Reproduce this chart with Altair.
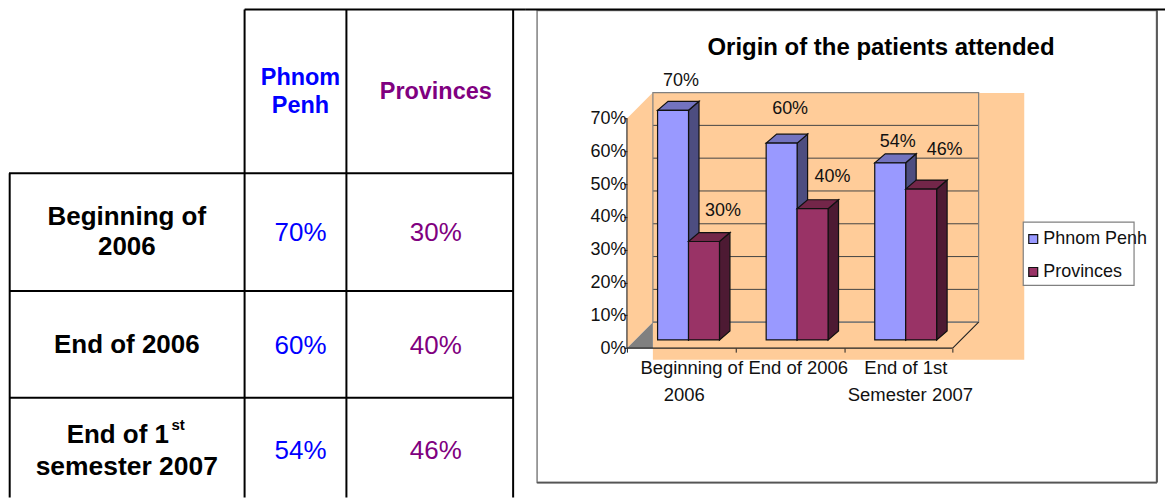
import altair as alt
import pandas as pd

# ---------- chart values ----------
SERIES = ["Phnom Penh", "Provinces"]
CATEGORIES = ["Beginning of 2006", "End of 2006", "End of 1st Semester 2007"]
PHNOM = [70, 60, 54]
PROVINCES = [30, 40, 46]
TITLE = "Origin of the patients attended"
AXIS_TICKS = [0, 10, 20, 30, 40, 50, 60, 70]
TABLE_HEAD = ["Phnom\nPenh", "Provinces"]
TABLE_ROWS = ["Beginning of\n2006", "End of 2006"]
CAT_LINES = [["Beginning of", "2006"], ["End of 2006"], ["End of 1st", "Semester 2007"]]

# ---------- layout / style ----------
FONT = "Liberation Sans"
BLUE, BLUE_SIDE, BLUE_TOP = "#9999FF", "#4D4D80", "#7373BF"
MAR, MAR_SIDE, MAR_TOP = "#993366", "#4D1A33", "#732649"
ORANGE = "#FFCC99"
PX_X, PX_Y = 108.77, 3.286        # pixels per category / per percent point
OX, OY = 627 - 525, 348.3 - 8     # panel position of the front-left floor corner
PW, PH, TW = 641, 490, 517
BAR_W, BAR_GAP = 31 / PX_X, 30.7 / PX_X
BAR_DX, BAR_DZ = 10.5 / PX_X, 9 / PX_Y
BASE = 2.5
WALL_DX, WALL_DZ = 26 / PX_X, 26 / PX_Y
LABEL_DX = {0: [8, 8.5, 7.5], 1: [19, 20, 23.5]}
LABEL_DY = {0: [29, 34, 21], 1: [30.5, 32, 39.5]}

xs = alt.Scale(domain=[-OX / PX_X, (PW - OX) / PX_X], range=[0, PW], nice=False, zero=False)
ys = alt.Scale(domain=[(OY - PH) / PX_Y, OY / PX_Y], range=[PH, 0], nice=False, zero=False)
X = lambda f="x": alt.X(f"{f}:Q", scale=xs, axis=None)
Y = lambda f="y": alt.Y(f"{f}:Q", scale=ys, axis=None)


def px(x):  # page pixel -> panel value
    return alt.value(x - 525)


def py(y):
    return alt.value(y - 8)


def ux(page_x):  # page pixel -> category units
    return (page_x - 627) / PX_X


def uy(page_y):
    return (348.3 - page_y) / PX_Y


ONE = pd.DataFrame({"a": [0]})
layers = []

# chart frame
layers.append(alt.Chart(ONE).mark_rect(fill="white", stroke="#808080", strokeWidth=1.5).encode(
    x=px(537), x2=px(1157.5), y=py(10), y2=py(483)))
for a in [dict(x=px(537), x2=px(1158), y=py(483)), dict(x=px(1158), y=py(10), y2=py(483))]:
    layers.append(alt.Chart(ONE).mark_rule(color="#555555", strokeWidth=1.8).encode(**a))

# orange plot background
bg = pd.DataFrame({"x": [ux(653)], "x2": [ux(1025)], "y": [uy(92.7)], "y2": [uy(360)]})
layers.append(alt.Chart(bg).mark_rect(fill=ORANGE).encode(x=X(), x2="x2:Q", y=Y(), y2="y2:Q"))

# left wall and grey floor corner
wall = pd.DataFrame({"x": [0, WALL_DX], "y": [0, WALL_DZ], "y2": [70, 70 + WALL_DZ]})
layers.append(alt.Chart(wall).mark_area(fill=ORANGE).encode(x=X(), y=Y(), y2="y2:Q"))
corner = pd.DataFrame({"x": [0, WALL_DX], "y": [0, 0], "y2": [0, WALL_DZ]})
layers.append(alt.Chart(corner).mark_area(fill="#808080").encode(x=X(), y=Y(), y2="y2:Q"))

# back wall grid
back_x2 = 3 + WALL_DX
grid = pd.DataFrame({"x": [WALL_DX] * 7, "x2": [back_x2] * 7, "y": [v + WALL_DZ for v in AXIS_TICKS[:-1]]})
layers.append(alt.Chart(grid).mark_rule(color="#444444", strokeWidth=1).encode(x=X(), x2="x2:Q", y=Y()))
frame = pd.DataFrame({"x": [WALL_DX], "x2": [back_x2], "y": [WALL_DZ], "y2": [70 + WALL_DZ]})
layers.append(alt.Chart(frame).mark_rect(fillOpacity=0, stroke="#808080", strokeWidth=1.2).encode(x=X(), x2="x2:Q", y=Y(), y2="y2:Q"))

# floor edges, left wall edge
edges = pd.DataFrame({
    "x": [0, 0, 3],
    "x2": [3, 0, back_x2],
    "y": [0, 0, 0],
    "y2": [0, 70, WALL_DZ],
})
layers.append(alt.Chart(edges).mark_rule(color="#222222", strokeWidth=1.1).encode(x=X(), x2="x2:Q", y=Y(), y2="y2:Q"))

# axes (ticks on the floor edge, value labels on the wall edge)
axis_df = pd.DataFrame({"x": [0.0, 3.0], "y": [0, 70]})
layers.append(alt.Chart(axis_df).mark_point(opacity=0).encode(
    x=alt.X("x:Q", scale=xs, axis=alt.Axis(values=[0, 1, 2, 3], labels=False, domain=False, grid=False, title=None,
                                           ticks=True, tickSize=4, tickColor="#222222", offset=OY - PH, zindex=1)),
    y=alt.Y("y:Q", scale=ys, axis=alt.Axis(values=AXIS_TICKS, labelExpr="datum.value + '%'", domain=False, grid=False,
                                           title=None, tickSize=3, tickColor="#222222", labelPadding=-2, labelFontSize=18,
                                           labelFont=FONT, labelColor="#111111", offset=-OX, zindex=1)),
))

# legend box behind the legend
layers.append(alt.Chart(ONE).mark_rect(fill="white", stroke="#808080", strokeWidth=1.2).encode(
    x=px(1024), x2=px(1135), y=py(222), y2=py(285.5)))

# bars
color = alt.Color("series:N", scale=alt.Scale(domain=SERIES, range=[BLUE, MAR]),
                  legend=alt.Legend(title=None, orient="none", legendX=1030 - 8 - 5, legendY=230 - 8, symbolType="square",
                                    symbolSize=80, symbolStrokeColor="#111111", symbolStrokeWidth=1.2, labelFontSize=18,
                                    labelFont=FONT, labelColor="#111111", labelOffset=1, rowPadding=15, zindex=1,
                                    symbolOpacity=1, labelLimit=300))
for j, (name, vals, side_c, top_c) in enumerate([(SERIES[0], PHNOM, BLUE_SIDE, BLUE_TOP), (SERIES[1], PROVINCES, MAR_SIDE, MAR_TOP)]):
    side, top, front = [], [], []
    for k, v in enumerate(vals):
        l = k + BAR_GAP + j * BAR_W
        r = l + BAR_W
        t = v + BASE
        side += [dict(cat=k, x=r, y=BASE, y2=t), dict(cat=k, x=r + BAR_DX, y=BASE + BAR_DZ, y2=t + BAR_DZ)]
        top += [dict(cat=k, x=l, y=t, y2=t), dict(cat=k, x=l + BAR_DX, y=t, y2=t + BAR_DZ),
                dict(cat=k, x=r, y=t, y2=t + BAR_DZ), dict(cat=k, x=r + BAR_DX, y=t + BAR_DZ, y2=t + BAR_DZ)]
        front.append(dict(series=name, x=l, x2=r, y=BASE, y2=t))
    layers.append(alt.Chart(pd.DataFrame(side)).mark_area(fill=side_c, stroke="#111111", strokeWidth=1.2).encode(
        x=X(), y=Y(), y2="y2:Q", detail="cat:N"))
    layers.append(alt.Chart(pd.DataFrame(top)).mark_area(fill=top_c, stroke="#111111", strokeWidth=1.2).encode(
        x=X(), y=Y(), y2="y2:Q", detail="cat:N"))
    layers.append(alt.Chart(pd.DataFrame(front)).mark_rect(stroke="#111111", strokeWidth=1.2).encode(
        x=X(), x2="x2:Q", y=Y(), y2="y2:Q", color=color))

# data labels
rows = []
for j, vals in enumerate([PHNOM, PROVINCES]):
    for k, v in enumerate(vals):
        rows.append(dict(x=k + BAR_GAP + (j + 0.5) * BAR_W + LABEL_DX[j][k] / PX_X,
                         y=v + BASE + LABEL_DY[j][k] / PX_Y, t=f"{v}%"))
layers.append(alt.Chart(pd.DataFrame(rows)).mark_text(font=FONT, fontSize=18, color="#111111").encode(x=X(), y=Y(), text="t:N"))

# category labels
cat_dx = [[10.5, 3], [8.5], [7.5, 12]]
rows = []
for k, lines in enumerate(CAT_LINES):
    for i, s in enumerate(lines):
        rows.append(dict(x=k + 0.5 + cat_dx[k][i] / PX_X, y=uy(368 + 27 * i), t=s))
layers.append(alt.Chart(pd.DataFrame(rows)).mark_text(font=FONT, fontSize=18.5, color="#111111").encode(x=X(), y=Y(), text="t:N"))

# title
layers.append(alt.Chart(pd.DataFrame({"t": [TITLE]})).mark_text(font=FONT, fontSize=24, fontWeight="bold", color="#000000").encode(
    x=px(881.5), y=py(48), text="t:N"))

# top rule continuing across the chart panel
layers.append(alt.Chart(ONE).mark_rule(color="black", strokeWidth=2).encode(x=alt.value(0), x2=alt.value(PW), y=alt.value(1)))

chart_panel = alt.layer(*layers).resolve_axis(x="independent", y="independent").properties(width=PW, height=PH)

# ---------- table panel ----------
tx = alt.Scale(domain=[0, 1, 2], range=[126 - 8, 300 - 8, 435.5 - 8])
ty = alt.Scale(domain=[-1, 0, 1, 2], range=[92 - 8, 233 - 8, 346 - 8, 451 - 8])
TX = alt.X("col:Q", scale=tx, axis=None)
TY = alt.Y("row:Q", scale=ty, axis=None)

tlayers = []
lines = pd.DataFrame({
    "x": [0.7, 236, 338, 505, 236, 0, 0, 0],
    "x2": [0.7, 236, 338, 505, TW, 505, 505, 505],
    "y": [165, 1, 1, 1, 1, 165, 283, 390],
    "y2": [PH, PH, PH, PH, 1, 165, 283, 390],
})
tlayers.append(alt.Chart(lines).mark_rule(color="black", strokeWidth=2).encode(
    x=alt.X("x:Q", scale=None), x2="x2:Q", y=alt.Y("y:Q", scale=None), y2="y2:Q"))

# multi-line texts are anchored on their first line, so they need a lift of half a line
for col, color_c, head_t, vals, lift in [(1, "#0000FF", TABLE_HEAD[0], PHNOM, -14), (2, "#800080", TABLE_HEAD[1], PROVINCES, 0)]:
    head = pd.DataFrame({"col": [col], "row": [-1], "t": [head_t]})
    tlayers.append(alt.Chart(head).mark_text(font=FONT, fontSize=23.5, fontWeight="bold", lineBreak="\n", lineHeight=28, color=color_c, dy=lift).encode(
        x=TX, y=TY, text="t:N"))
    val = pd.DataFrame([dict(col=col, row=i, t=f"{v}%") for i, v in enumerate(vals)])
    tlayers.append(alt.Chart(val).mark_text(font=FONT, fontSize=26, color=color_c).encode(x=TX, y=TY, text="t:N"))

for i, lift in enumerate([-16.5, -1]):
    rl = pd.DataFrame({"col": [0], "row": [i], "t": [TABLE_ROWS[i]]})
    tlayers.append(alt.Chart(rl).mark_text(font=FONT, fontSize=26, fontWeight="bold", lineBreak="\n", lineHeight=31, color="black", dy=lift).encode(
        x=TX, y=TY, text="t:N"))

# last row label with its superscript
for t, x, y, fs in [("End of 1", 117, 435, 26), ("semester 2007", 126, 467.5, 26.5), ("st", 177.5, 425, 15)]:
    tlayers.append(alt.Chart(pd.DataFrame({"t": [t]})).mark_text(font=FONT, fontSize=fs, fontWeight="bold", color="black").encode(
        x=alt.value(x - 8), y=alt.value(y - 8), text="t:N"))

table_panel = alt.layer(*tlayers).properties(width=TW, height=PH)

chart = alt.hconcat(table_panel, chart_panel, spacing=0, bounds="flush").properties(padding=0).configure_view(stroke=None)
chart.save("out.html", embed_options={"renderer": "svg", "actions": False})
